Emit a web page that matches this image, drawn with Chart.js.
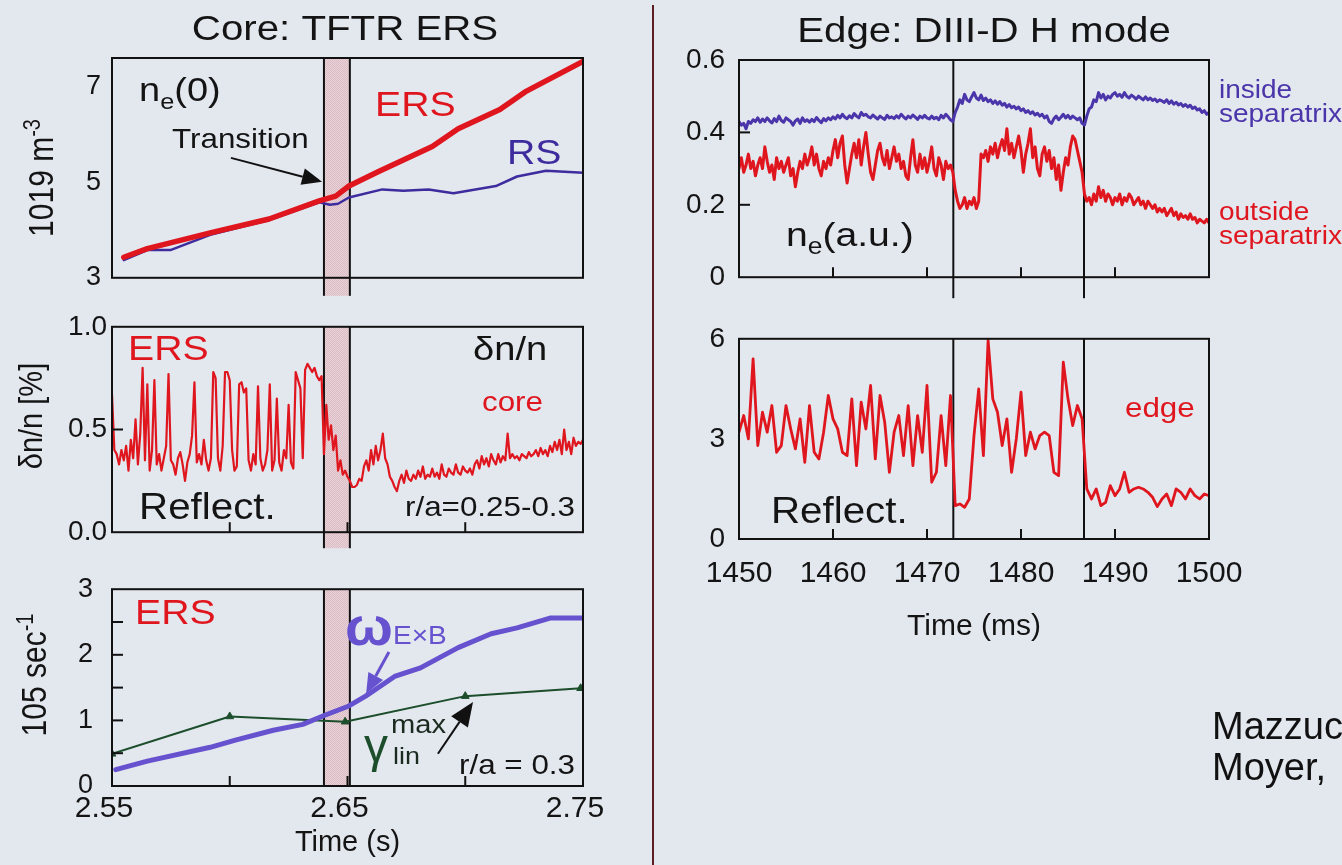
<!DOCTYPE html>
<html>
<head>
<meta charset="utf-8">
<script src="https://cdn.jsdelivr.net/npm/chart.js@4.4.1/dist/chart.umd.min.js"></script>
<style>
  html, body { margin: 0; padding: 0; background: #e3e7ee; }
  body { width: 1342px; height: 865px; position: relative; overflow: hidden; font-family: "Liberation Sans", Arial, sans-serif; }
  canvas { position: absolute; }
  #divider { position: absolute; left: 652px; top: 5px; width: 2px; height: 860px; background: #5e1c24; }
  .cite { position: absolute; left: 1212px; font-size: 38px; line-height: 1; color: #111; white-space: nowrap; }
</style>
</head>
<body>
<canvas id="core1" width="652" height="305" style="left:0px;top:0px"></canvas>
<canvas id="core2" width="652" height="249" style="left:0px;top:305px"></canvas>
<canvas id="core3" width="652" height="311" style="left:0px;top:554px"></canvas>
<canvas id="edge1" width="688" height="308" style="left:654px;top:0px"></canvas>
<canvas id="edge2" width="688" height="557" style="left:654px;top:308px"></canvas>
<div id="divider"></div>
<div class="cite" style="top:707px">Mazzuc</div>
<div class="cite" style="top:748px">Moyer,</div>
<script>
// ---- TFTR core: central density n_e(0), 10^19 m^-3
const neTimeERS = [2.555, 2.565, 2.5917, 2.6167, 2.638, 2.645, 2.6506, 2.663, 2.686, 2.697, 2.7147, 2.7254, 2.75];
const neERS     = [3.43, 3.61, 3.94, 4.23, 4.61, 4.71, 4.92, 5.22, 5.75, 6.12, 6.52, 6.89, 7.53];
const neTimeRS  = [2.555, 2.565, 2.5748, 2.5917, 2.6167, 2.638, 2.6425, 2.646, 2.6506, 2.6648, 2.6737, 2.6844, 2.695, 2.713, 2.722, 2.7343, 2.75];
const neRS      = [3.37, 3.58, 3.58, 3.90, 4.21, 4.58, 4.53, 4.55, 4.68, 4.85, 4.82, 4.85, 4.77, 4.92, 5.12, 5.24, 5.20];

// ---- reflectometer dn/n [%], core, sampled every 1 ms from 2.55 s
const dnStart = 2.55, dnStep = 0.001;
const dnCore = [
  0.67,0.40,0.38,0.33,0.40,0.35,0.42,0.30,0.45,0.36,
  0.55,0.33,0.48,0.80,0.35,0.72,0.30,0.40,0.74,0.33,
  0.38,0.30,0.36,0.42,0.77,0.35,0.33,0.28,0.36,0.39,
  0.33,0.25,0.34,0.38,0.47,0.73,0.34,0.38,0.33,0.45,
  0.35,0.30,0.36,0.78,0.75,0.36,0.30,0.42,0.78,0.78,
  0.74,0.40,0.30,0.32,0.72,0.73,0.68,0.70,0.35,0.30,
  0.38,0.33,0.71,0.36,0.30,0.33,0.40,0.72,0.30,0.35,
  0.65,0.34,0.30,0.40,0.36,0.62,0.34,0.31,0.78,0.74,
  0.70,0.36,0.79,0.82,0.80,0.78,0.80,0.76,0.74,0.76,
  0.38,0.62,0.45,0.52,0.40,0.47,0.30,0.35,0.28,0.30,
  0.27,0.25,0.22,0.22,0.23,0.26,0.25,0.32,0.35,0.30,
  0.40,0.33,0.42,0.35,0.40,0.48,0.36,0.33,0.27,0.25,
  0.22,0.20,0.25,0.28,0.24,0.30,0.26,0.25,0.28,0.26,
  0.30,0.27,0.32,0.26,0.28,0.27,0.31,0.27,0.29,0.26,
  0.33,0.28,0.27,0.31,0.29,0.28,0.33,0.29,0.28,0.32,
  0.30,0.29,0.31,0.28,0.33,0.35,0.31,0.37,0.33,0.36,
  0.32,0.38,0.35,0.33,0.38,0.34,0.37,0.35,0.48,0.36,
  0.38,0.36,0.37,0.35,0.38,0.37,0.36,0.39,0.37,0.38,
  0.40,0.37,0.41,0.38,0.40,0.37,0.42,0.39,0.44,0.40,
  0.45,0.38,0.50,0.40,0.44,0.38,0.46,0.42,0.44,0.43,
  0.45
];

// ---- shearing rate and max linear growth rate, 10^5 s^-1
const wTime = [2.5516, 2.565, 2.5917, 2.6024, 2.6185, 2.631, 2.6398, 2.6506, 2.6577, 2.670, 2.681, 2.697, 2.711, 2.722, 2.736, 2.75];
const wExB  = [0.25, 0.38, 0.59, 0.70, 0.85, 0.94, 1.07, 1.22, 1.37, 1.67, 1.80, 2.11, 2.32, 2.41, 2.56, 2.56];
const gTime = [2.55, 2.60, 2.649, 2.70, 2.749];
const gMax  = [0.49, 1.06, 0.98, 1.37, 1.49];

// ERS transition window (s)
const transition = [2.64, 2.651];

// ---- DIII-D edge density (a.u.), sampled every 0.25 ms from 1450 ms
const edgeStart = 1450, edgeStep = 0.25;
const insideSep = [
  0.430,0.420,0.425,0.410,0.430,0.425,0.435,0.430,0.440,0.428,
  0.437,0.430,0.440,0.432,0.426,0.438,0.430,0.445,0.433,0.428,
  0.440,0.435,0.430,0.420,0.432,0.437,0.425,0.440,0.430,0.435,
  0.428,0.436,0.430,0.441,0.433,0.427,0.438,0.432,0.440,0.435,
  0.443,0.437,0.447,0.440,0.450,0.442,0.438,0.446,0.440,0.452,
  0.445,0.440,0.455,0.447,0.450,0.443,0.440,0.448,0.442,0.437,
  0.445,0.440,0.436,0.447,0.440,0.443,0.438,0.446,0.440,0.450,
  0.443,0.437,0.445,0.440,0.448,0.442,0.436,0.445,0.440,0.447,
  0.440,0.437,0.445,0.438,0.442,0.435,0.447,0.440,0.450,0.443,
  0.435,0.430,0.455,0.470,0.490,0.480,0.505,0.490,0.485,0.498,
  0.510,0.495,0.490,0.503,0.488,0.495,0.485,0.490,0.480,0.487,
  0.478,0.485,0.475,0.480,0.470,0.477,0.468,0.472,0.465,0.470,
  0.460,0.465,0.455,0.460,0.452,0.457,0.448,0.453,0.445,0.450,
  0.440,0.446,0.430,0.425,0.438,0.445,0.435,0.442,0.450,0.440,
  0.447,0.438,0.445,0.440,0.435,0.440,0.425,0.420,0.445,0.465,
  0.470,0.490,0.485,0.510,0.495,0.505,0.490,0.500,0.495,0.505,
  0.510,0.500,0.505,0.497,0.510,0.500,0.495,0.503,0.498,0.492,
  0.500,0.495,0.490,0.498,0.490,0.495,0.488,0.492,0.485,0.490,
  0.487,0.483,0.490,0.480,0.487,0.478,0.483,0.476,0.480,0.472,
  0.477,0.470,0.475,0.466,0.470,0.462,0.465,0.455,0.460,0.450,
  0.455
];
const outsideSep = [
  0.30,0.33,0.29,0.31,0.34,0.30,0.32,0.28,0.31,0.33,
  0.30,0.36,0.32,0.29,0.31,0.27,0.33,0.30,0.32,0.29,
  0.31,0.33,0.28,0.30,0.25,0.29,0.32,0.30,0.34,0.31,
  0.33,0.36,0.31,0.34,0.30,0.28,0.32,0.30,0.33,0.31,
  0.35,0.38,0.33,0.37,0.39,0.31,0.26,0.30,0.34,0.37,
  0.33,0.38,0.31,0.36,0.40,0.34,0.29,0.27,0.31,0.35,
  0.37,0.33,0.31,0.35,0.30,0.33,0.36,0.32,0.34,0.30,
  0.32,0.28,0.27,0.33,0.38,0.31,0.29,0.34,0.30,0.33,
  0.29,0.32,0.36,0.30,0.28,0.33,0.31,0.27,0.32,0.30,
  0.31,0.29,0.24,0.21,0.19,0.20,0.22,0.19,0.21,0.20,
  0.22,0.19,0.21,0.34,0.33,0.35,0.32,0.36,0.34,0.37,
  0.33,0.36,0.38,0.35,0.41,0.34,0.37,0.33,0.36,0.39,
  0.35,0.29,0.34,0.37,0.41,0.33,0.36,0.30,0.28,0.34,
  0.36,0.32,0.35,0.30,0.33,0.27,0.31,0.24,0.29,0.33,
  0.31,0.36,0.39,0.38,0.35,0.32,0.29,0.23,0.21,0.22,
  0.20,0.23,0.21,0.25,0.22,0.24,0.21,0.23,0.22,0.20,
  0.22,0.21,0.23,0.20,0.22,0.21,0.23,0.22,0.20,0.21,
  0.22,0.20,0.21,0.19,0.21,0.20,0.19,0.20,0.18,0.19,
  0.18,0.19,0.17,0.18,0.19,0.17,0.18,0.16,0.175,0.165,
  0.17,0.16,0.175,0.16,0.165,0.15,0.16,0.155,0.15,0.16,
  0.15
];

// ---- edge reflectometer fluctuation level, sampled every 0.5 ms from 1450 ms
const flucStart = 1450, flucStep = 0.5;
const edgeFluc = [
  3.2,3.7,3.0,5.4,2.8,3.8,3.2,4.0,2.6,2.8,
  4.0,3.3,2.7,3.6,2.3,4.0,2.6,2.4,3.2,4.3,
  3.6,3.3,2.6,2.5,4.2,2.2,4.1,3.3,4.6,2.4,
  4.3,3.5,2.0,3.2,3.7,2.5,4.0,2.2,3.7,2.6,
  4.6,1.7,2.0,3.7,2.2,4.3,1.0,1.05,0.95,1.2,
  3.1,4.5,2.5,5.95,4.2,3.8,2.8,3.6,2.0,3.0,
  4.4,2.5,3.2,2.7,3.1,3.2,3.1,2.0,1.9,5.3,
  4.2,3.4,4.0,3.6,1.5,1.2,1.5,1.0,1.1,1.6,
  1.3,1.5,2.0,1.4,1.5,1.55,1.5,1.4,1.25,0.97,
  1.2,1.35,1.0,1.5,1.4,1.2,1.5,1.3,1.2,1.35,
  1.3
];

// L-H / H-L transition times (ms)
const edgeMarks = [1472.8, 1486.7];

const coreTicks = [2.55, 2.65, 2.75];
const edgeTicks = [1450, 1460, 1470, 1480, 1490, 1500];

// ------------------------------------------------------------------
const FONT = '"Liberation Sans", Arial, Helvetica, sans-serif';
const STRETCH = 1.12;
const RED = '#e0161f', RS_BLUE = '#3e2c9e', EXB_BLUE = '#6652cf', IN_BLUE = '#4b35aa', GREEN = '#1c4e2c', INK = '#141414';

Chart.defaults.font.family = FONT;
Chart.defaults.color = INK;

const pts = (xs, ys) => xs.map((x, i) => ({ x, y: ys[i] }));
const sampled = (t0, dt, ys) => ys.map((y, i) => ({ x: t0 + i * dt, y }));
const run = (text, size, color, extra) => Object.assign({ text, size, color: color || INK }, extra || {});

function lineSet(data, color, width, extra) {
  return Object.assign({ data, borderColor: color, borderWidth: width, pointRadius: 0, tension: 0,
    fill: false, borderJoinStyle: 'round', borderCapStyle: 'round' }, extra || {});
}

function scaleX(min, max, o) {
  const ticks = { display: !!o.labels, font: { size: o.size || 30 }, padding: o.pad || 0,
    maxRotation: 0, autoSkip: false, labelOffset: o.offset || 0 };
  if (o.fmt) ticks.callback = o.fmt;
  return {
    type: 'linear', min, max,
    grid: { display: false, drawTicks: false }, border: { display: false },
    afterFit: s => { s.height = o.height; },
    afterBuildTicks: s => { s.ticks = (o.labels || []).map(value => ({ value })); },
    ticks,
    title: o.title ? { display: true, text: o.title, color: INK, font: { size: o.titleSize },
      padding: { top: 0, bottom: o.titlePad } } : { display: false }
  };
}

function scaleY(min, max, o) {
  const ticks = { font: { size: o.size }, padding: o.pad, autoSkip: false };
  if (o.fmt) ticks.callback = o.fmt;
  return {
    type: 'linear', min, max,
    grid: { display: false, drawTicks: false }, border: { display: false },
    afterFit: s => { s.width = o.width; },
    afterBuildTicks: s => { s.ticks = o.labels.map(value => ({ value })); },
    ticks
  };
}

// text drawn with a slight horizontal stretch, the way the lettering is set
function drawRuns(ctx, runs, x, y, align, sx, rotate) {
  ctx.save();
  ctx.translate(x, y);
  ctx.scale(sx || STRETCH, 1);
  if (rotate) ctx.rotate(rotate);
  ctx.textAlign = 'left';
  ctx.textBaseline = 'alphabetic';
  const fontOf = r => `${r.weight || 'normal'} ${r.size}px ${FONT}`;
  let w = 0;
  runs.forEach(r => { ctx.font = fontOf(r); w += ctx.measureText(r.text).width; });
  let cx = align === 'center' ? -w / 2 : align === 'right' ? -w : 0;
  runs.forEach(r => {
    ctx.font = fontOf(r);
    ctx.fillStyle = r.color;
    ctx.fillText(r.text, cx, r.dy || 0);
    cx += ctx.measureText(r.text).width;
  });
  ctx.restore();
}

function arrow(ctx, x0, y0, x1, y1, color, width, head) {
  const ang = Math.atan2(y1 - y0, x1 - x0);
  const hw = head * 0.42;
  const bx = x1 - head * Math.cos(ang), by = y1 - head * Math.sin(ang);
  ctx.strokeStyle = color; ctx.fillStyle = color; ctx.lineWidth = width;
  ctx.beginPath(); ctx.moveTo(x0, y0); ctx.lineTo(bx, by); ctx.stroke();
  ctx.beginPath(); ctx.moveTo(x1, y1);
  ctx.lineTo(bx + hw * Math.sin(ang), by - hw * Math.cos(ang));
  ctx.lineTo(bx - hw * Math.sin(ang), by + hw * Math.cos(ang));
  ctx.closePath(); ctx.fill();
}

// fine pink stipple for the transition window
function stipple(ctx) {
  const p = document.createElement('canvas');
  p.width = 2; p.height = 2;
  const g = p.getContext('2d');
  g.fillStyle = '#e8d3d8'; g.fillRect(0, 0, 2, 2);
  g.fillStyle = '#dbbcc4'; g.fillRect(0, 0, 1, 1); g.fillRect(1, 1, 1, 1);
  return ctx.createPattern(p, 'repeat');
}

// per-canvas decorations: frame, inner ticks, shaded window, labels, arrows
const decorSpecs = {};
const decor = {
  id: 'decor',
  beforeDatasetsDraw(chart) {
    const d = decorSpecs[chart.canvas.id];
    const { ctx, chartArea: a } = chart;
    const x = chart.scales.x;
    const low = a.bottom + (d.extend || 0);
    const vline = px => { ctx.beginPath(); ctx.moveTo(px, a.top); ctx.lineTo(px, low); ctx.stroke(); };
    ctx.save();
    ctx.strokeStyle = '#111'; ctx.lineWidth = 2;
    if (d.band) {
      const x0 = x.getPixelForValue(d.band[0]), x1 = x.getPixelForValue(d.band[1]);
      ctx.fillStyle = stipple(ctx);
      ctx.fillRect(x0, a.top, x1 - x0, low - a.top);
      vline(x0); vline(x1);
    }
    (d.marks || []).forEach(t => vline(x.getPixelForValue(t)));
    ctx.restore();
  },
  afterDatasetsDraw(chart) {
    const d = decorSpecs[chart.canvas.id];
    const { ctx, chartArea: a } = chart;
    const x = chart.scales.x, y = chart.scales.y;
    ctx.save();
    ctx.strokeStyle = '#111'; ctx.lineWidth = 2;
    ctx.strokeRect(a.left, a.top, a.width, a.height);
    (d.tickX || []).forEach(v => {
      const px = x.getPixelForValue(v);
      ctx.beginPath(); ctx.moveTo(px, a.bottom); ctx.lineTo(px, a.bottom - 10); ctx.stroke();
    });
    (d.tickY || []).forEach(v => {
      const py = y.getPixelForValue(v);
      ctx.beginPath(); ctx.moveTo(a.left, py); ctx.lineTo(a.left + 11, py); ctx.stroke();
    });
    (d.arrows || []).forEach(r => arrow(ctx, x.getPixelForValue(r.from[0]), y.getPixelForValue(r.from[1]),
      x.getPixelForValue(r.to[0]), y.getPixelForValue(r.to[1]), r.color, r.width, r.head));
    (d.labels || []).forEach(l => drawRuns(ctx, l.runs, x.getPixelForValue(l.at[0]), y.getPixelForValue(l.at[1]), l.align, l.sx));
    ctx.translate(-d.origin[0], -d.origin[1]);
    (d.page || []).forEach(l => drawRuns(ctx, l.runs, l.at[0], l.at[1], l.align, l.sx, l.rotate));
    ctx.restore();
  }
};

function build(id, datasets, scales, padding, spec) {
  decorSpecs[id] = spec;
  return new Chart(document.getElementById(id), {
    type: 'line',
    data: { datasets },
    options: {
      responsive: false, animation: false, events: [],
      layout: { padding },
      scales,
      plugins: { legend: { display: false }, tooltip: { enabled: false } }
    },
    plugins: [decor]
  });
}

const UP = -Math.PI / 2;

// ---- Core: TFTR ERS --------------------------------------------------
build('core1', [
  lineSet(pts(neTimeERS, neERS), RED, 5.5),
  lineSet(pts(neTimeRS, neRS), RS_BLUE, 2.5)
], {
  x: scaleX(2.55, 2.75, { height: 18 }),
  y: scaleY(3, 7.6, { width: 112, labels: [3, 5, 7], size: 27, pad: 11 })
}, { top: 58, right: 69, left: 0, bottom: 0 }, {
  origin: [0, 0], band: transition, extend: 18,
  labels: [
    { at: [2.5615, 6.70], runs: [run('n', 33), run('e', 22, INK, { dy: 8 }), run('(0)', 33)], sx: 1.15 },
    { at: [2.6617, 6.39], runs: [run('ERS', 35, RED)] },
    { at: [2.5755, 5.71], runs: [run('Transition', 28)] },
    { at: [2.7177, 5.39], runs: [run('RS', 35, RS_BLUE)] }
  ],
  arrows: [{ from: [2.6005, 5.51], to: [2.6392, 5.01], color: '#111', width: 2, head: 20 }],
  page: [
    { at: [345, 40], runs: [run('Core: TFTR ERS', 35)], align: 'center', sx: 1.15 },
    { at: [53, 178], runs: [run('1019 m', 30), run('-3', 20, INK, { dy: -11 })], align: 'center', sx: 1.15, rotate: UP }
  ]
});

build('core2', [
  lineSet(sampled(dnStart, dnStep, dnCore), RED, 2.2)
], {
  x: scaleX(2.55, 2.75, { height: 16 }),
  y: scaleY(0, 1, { width: 112, labels: [0, 0.5, 1], size: 28, pad: 5, fmt: v => v.toFixed(1) })
}, { top: 0, right: 69, left: 0, bottom: 0 }, {
  origin: [0, 305], band: transition, extend: 16,
  tickX: [2.60, 2.65, 2.70], tickY: [0.5],
  labels: [
    { at: [2.5568, 0.837], runs: [run('ERS', 35, RED)] },
    { at: [2.7033, 0.837], runs: [run('δn/n', 34)] },
    { at: [2.7071, 0.592], runs: [run('core', 28, RED)] },
    { at: [2.5615, 0.064], runs: [run('Reflect.', 36)] },
    { at: [2.7466, 0.077], runs: [run('r/a=0.25-0.3', 28)], align: 'right' }
  ],
  page: [
    { at: [42, 416], runs: [run('δn/n [%]', 29)], align: 'center', sx: 1.15, rotate: UP }
  ]
});

build('core3', [
  lineSet(pts(wTime, wExB), EXB_BLUE, 5),
  lineSet(pts(gTime, gMax), GREEN, 2, { pointRadius: 4.5, pointStyle: 'triangle', pointBackgroundColor: GREEN, pointBorderColor: GREEN, pointBorderWidth: 1 })
], {
  x: scaleX(2.55, 2.75, { height: 79, labels: coreTicks, size: 30, pad: 5, offset: -8,
    fmt: v => v.toFixed(2), title: 'Time (s)', titleSize: 29, titlePad: 5 }),
  y: scaleY(0, 3, { width: 112, labels: [0, 1, 2, 3], size: 27, pad: 19 })
}, { top: 0, right: 69, left: 0, bottom: 0 }, {
  origin: [0, 554], band: transition, extend: 0,
  tickX: [2.60, 2.65, 2.70], tickY: [0.5, 1, 1.5, 2, 2.5],
  labels: [
    { at: [2.5598, 2.47], runs: [run('ERS', 35, RED)] },
    { at: [2.6489, 2.147], runs: [run('ω', 54, EXB_BLUE, { weight: 'bold' })], sx: 1.05 },
    { at: [2.6693, 2.17], runs: [run('E×B', 25, EXB_BLUE)] },
    { at: [2.657, 0.362], runs: [run('γ', 48, GREEN)], sx: 1.0 },
    { at: [2.6685, 0.815], runs: [run('max', 26, '#1b2a1f')] },
    { at: [2.6693, 0.336], runs: [run('lin', 24, '#1b2a1f')] },
    { at: [2.7466, 0.181], runs: [run('r/a = 0.3', 28)], align: 'right' }
  ],
  arrows: [
    { from: [2.6676, 2.043], to: [2.6579, 1.41], color: EXB_BLUE, width: 3, head: 20 },
    { from: [2.6884, 0.491], to: [2.7033, 1.28], color: '#111', width: 2, head: 24 }
  ],
  page: [
    { at: [46, 675], runs: [run('105 sec', 30), run('-1', 20, INK, { dy: -11 })], align: 'center', sx: 1.15, rotate: UP }
  ]
});

// ---- Edge: DIII-D H mode ---------------------------------------------
build('edge1', [
  lineSet(sampled(edgeStart, edgeStep, insideSep), IN_BLUE, 3),
  lineSet(sampled(edgeStart, edgeStep, outsideSep), RED, 3)
], {
  x: scaleX(1450, 1500, { height: 21 }),
  y: scaleY(0, 0.6, { width: 85, labels: [0, 0.2, 0.4, 0.6], size: 28, pad: 14, fmt: v => (v === 0 ? '0' : v.toFixed(1)) })
}, { top: 60, right: 133, left: 0, bottom: 0 }, {
  origin: [654, 0], marks: edgeMarks, extend: 21,
  tickX: [1460, 1470, 1480, 1490], tickY: [0.2, 0.4],
  labels: [
    { at: [1501.06, 0.494], runs: [run('inside', 25, IN_BLUE)] },
    { at: [1501.06, 0.428], runs: [run('separatrix', 25, IN_BLUE)] },
    { at: [1501.06, 0.159], runs: [run('outside', 25, RED)] },
    { at: [1501.06, 0.0925], runs: [run('separatrix', 25, RED)] },
    { at: [1455.0, 0.085], runs: [run('n', 34), run('e', 23, INK, { dy: 8 }), run('(a.u.)', 34)], sx: 1.15 }
  ],
  page: [
    { at: [984, 42], runs: [run('Edge: DIII-D H mode', 35)], align: 'center', sx: 1.15 }
  ]
});

build('edge2', [
  lineSet(sampled(flucStart, flucStep, edgeFluc), RED, 2.8)
], {
  x: scaleX(1450, 1500, { height: 121, labels: edgeTicks, size: 30, pad: 17, fmt: v => String(v),
    title: 'Time (ms)', titleSize: 30, titlePad: 15 }),
  y: scaleY(0, 6, { width: 85, labels: [0, 3, 6], size: 28, pad: 14 })
}, { top: 0, right: 133, left: 0, bottom: 205 }, {
  origin: [654, 308], marks: edgeMarks, extend: 0,
  tickX: [1460, 1470, 1480, 1490],
  labels: [
    { at: [1491.06, 3.66], runs: [run('edge', 28, RED)] },
    { at: [1453.4, 0.49], runs: [run('Reflect.', 36)] }
  ]
});
</script>
</body>
</html>
